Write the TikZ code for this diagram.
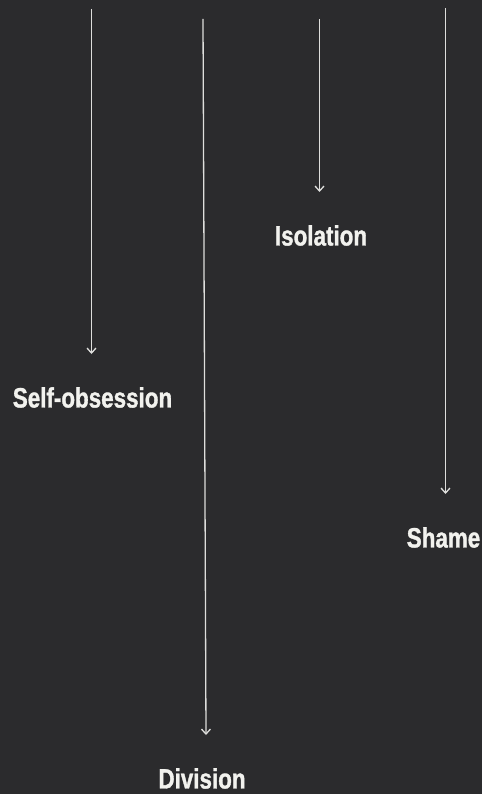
\documentclass[tikz,border=0pt]{standalone}
\usepackage{fontspec}
\newfontfamily\lblfont{Liberation Sans}[FakeStretch=0.8,BoldFeatures={FakeBold=1.2}]
\usetikzlibrary{arrows.meta}

\definecolor{bgdark}{RGB}{43,43,45}
\definecolor{linegray}{RGB}{222,222,220}
\definecolor{textwhite}{RGB}{242,242,238}

\begin{document}
\begin{tikzpicture}[
    x=1pt, y=-1pt,
    >={Straight Barb[length=5pt,width=9pt]},
    lbl/.style={
        font=\lblfont\bfseries\fontsize{28}{30}\selectfont,
        text=textwhite,
        inner sep=0pt,
        anchor=north
    },
    arrow/.style={
        ->,
        line width=1.3pt,
        draw=linegray
    }
]

% Background
\fill[bgdark] (0,0) rectangle (482,794);
\useasboundingbox (0,0) rectangle (482,794);

% Gap between arrow tip and label
\def\gap{33pt}

% Arrows and labels
\foreach \name/\txt/\xa/\ya/\xl/\yl/\dx in {
    self/Self-obsession/91.5/9/92.5/387/-1pt,
    div/Division/203/19/202/768/4pt,
    iso/Isolation/319.5/19/321/225/-1.5pt,
    shame/Shame/445.5/8/443.5/527/2pt} {
    \coordinate (src\name) at (\xa,\ya);
    \node[lbl] (\name) at (\xl,\yl) {\txt};
    \draw[arrow] (src\name) -- ([xshift=\dx,yshift=\gap]\name.north);
}

\end{tikzpicture}
\end{document}
